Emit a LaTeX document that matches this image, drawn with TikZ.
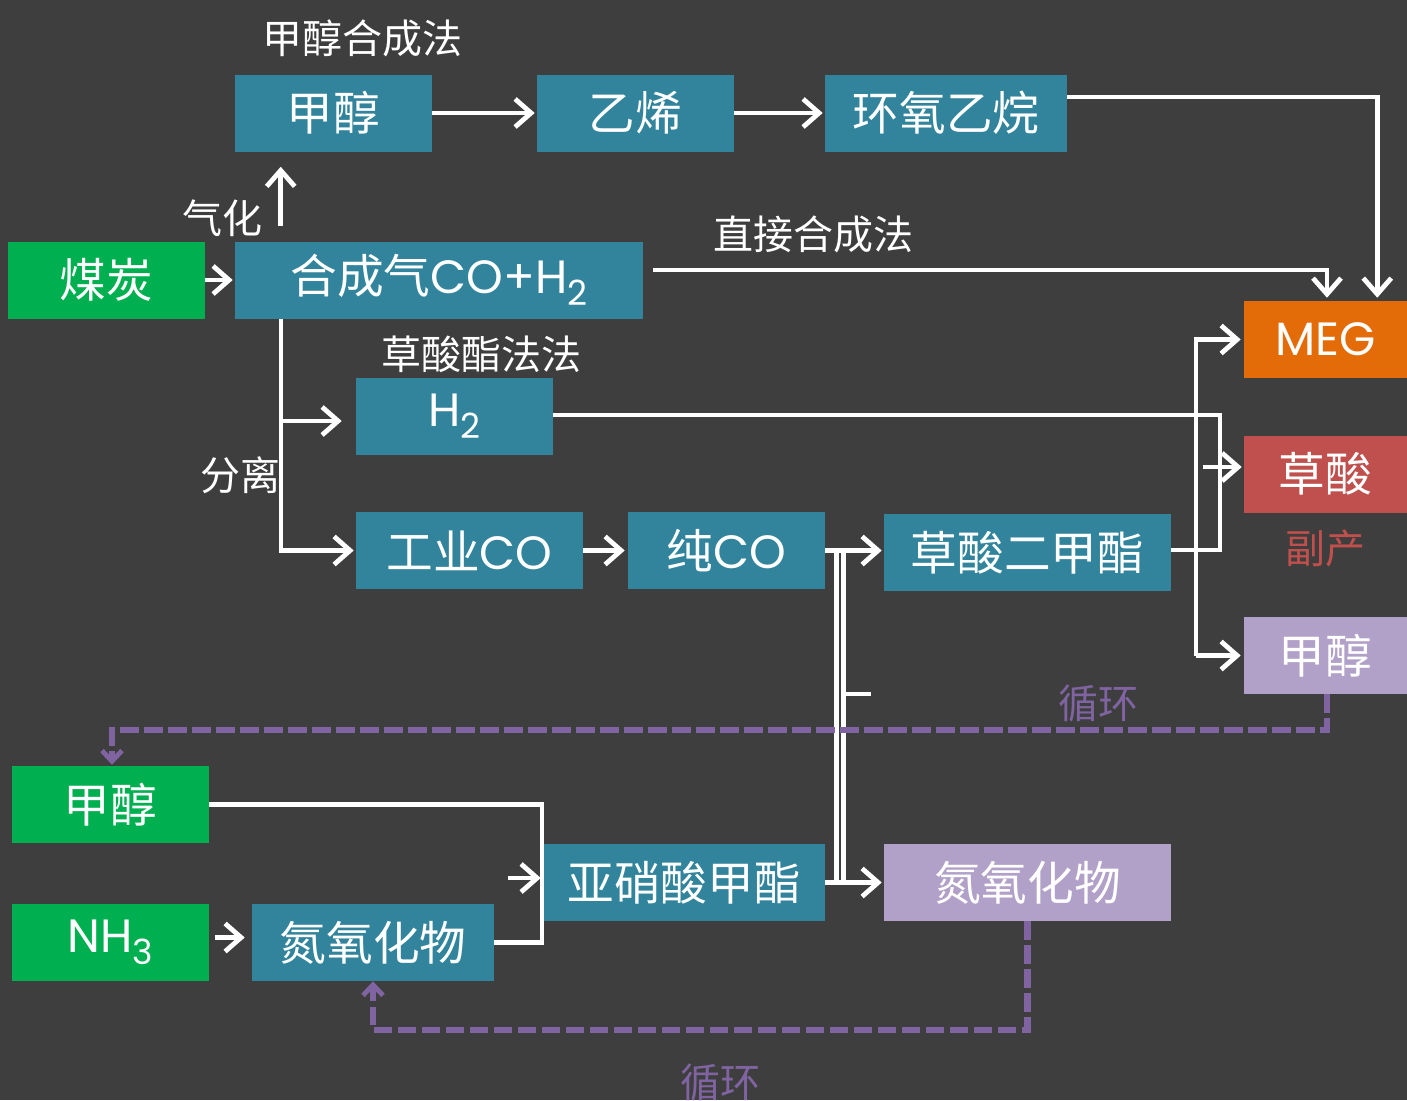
\documentclass[tikz,border=0pt]{standalone}
\usepackage{fontspec}
\setmainfont{Noto Sans CJK SC}
\newfontfamily\lat{Poppins}
\usetikzlibrary{arrows.meta,calc}
\definecolor{cbg}{HTML}{3E3E3E}
\definecolor{cteal}{HTML}{31849B}
\definecolor{cgreen}{HTML}{00B050}
\definecolor{corange}{HTML}{E36C09}
\definecolor{cred}{HTML}{C0504D}
\definecolor{clil}{HTML}{B1A0C7}
\definecolor{cpur}{HTML}{8064A2}
\newcommand\px{0.75pt}
\newcommand\mysub[1]{\raisebox{-0.45ex}{\fontsize{26}{26}\selectfont #1}}
\tikzset{
  box/.style={inner sep=0pt, minimum height=77*\px, text=white, font=\fontsize{35}{35}\selectfont},
  lab/.style={inner sep=0pt, text=white, font=\fontsize{30}{30}\selectfont},
  wl/.style={draw=white, line width=3.6pt},
  arr/.style={wl, -{Straight Barb[length=12pt,width=21pt]}},
  darr/.style={draw=cpur, line width=4.8pt, dash pattern=on 14pt off 4pt, -{Straight Barb[length=8pt,width=15pt,line width=3.6pt]}},
}
\begin{document}
\begin{tikzpicture}[x=0.75pt,y=-0.75pt]
\fill[cbg] (0,0) rectangle (1407,1100);
\useasboundingbox (0,0) rectangle (1407,1100);

% nodes
\node[box, fill=cteal, minimum width=197*\px] (m1) at (333.5,113) {甲醇};
\node[box, fill=cteal, minimum width=197*\px] (ey) at (635.5,113) {乙烯};
\node[box, fill=cteal, minimum width=242*\px] (eo) at (946,113) {环氧乙烷};
\node[box, fill=cgreen, minimum width=197*\px] (coal) at (106.5,280) {煤炭};
\node[box, fill=cteal, minimum width=408*\px] (syn) at (439,280) {合成气{\lat CO+H\mysub{2}}};
\node[box, fill=corange, minimum width=163*\px] (meg) at (1325.5,339.5) {\lat MEG};
\node[box, fill=cteal, minimum width=197*\px] (h2) at (454.5,416) {\lat H\mysub{2}};
\node[box, fill=cred, minimum width=163*\px] (ox) at (1325.5,474) {草酸};
\node[box, fill=cteal, minimum width=227*\px] (ico) at (469.5,550.5) {工业{\lat CO}};
\node[box, fill=cteal, minimum width=197*\px] (pco) at (726.5,550.5) {纯{\lat CO}};
\node[box, fill=cteal, minimum width=287*\px] (dmo) at (1027.5,552.5) {草酸二甲酯};
\node[box, fill=clil, minimum width=163*\px] (me2) at (1325.5,655.5) {甲醇};
\node[box, fill=cgreen, minimum width=197*\px] (mg) at (110.5,804.5) {甲醇};
\node[box, fill=cteal, minimum width=282*\px] (nit) at (684,882.5) {亚硝酸甲酯};
\node[box, fill=clil, minimum width=287*\px] (nox2) at (1027.5,882.5) {氮氧化物};
\node[box, fill=cgreen, minimum width=197*\px] (nh3) at (110.5,942.5) {\lat NH\mysub{3}};
\node[box, fill=cteal, minimum width=242*\px] (nox1) at (373,942.5) {氮氧化物};

% labels
\node[lab] (t1) at (362,38) {甲醇合成法};
\node[lab] (t2) at (222,218) {气化};
\node[lab] (t3) at (813,234) {直接合成法};
\node[lab] (t4) at (481,354) {草酸酯法法};
\node[lab] (t5) at (240,475) {分离};
\node[lab, text=cred] (t6) at (1325,548) {副产};
\node[lab, text=cpur] (t7) at (1098,703) {循环};
\node[lab, text=cpur] (t8) at (720,1082) {循环};

% coordinates
\coordinate (sp) at (281,319);
\coordinate (sb) at (281,421);
\coordinate (bj) at (1220,415);
\coordinate (bk) at (1220,550);
\coordinate (bb) at (1196,655.5);
\coordinate (jn) at (542,942.5);
\coordinate (c1) at (112,730);
\coordinate (c2) at (373,1030);

% connectors
\draw[arr] (m1.east) -- ($(ey.west)+(-2,0)$);
\draw[arr] (ey.east) -- ($(eo.west)+(-2,0)$);
\draw[arr] ($(eo.east)+(0,-16)$) -| ($(meg.north east)+(-30,-3)$);
\draw[arr] (coal.east) -- ($(syn.west)+(-2,0)$);
\draw[arr] ($(syn.east)+(10,-10)$) -| ($(meg.north)+(1.5,-3)$);
\draw[arr] ($(syn.north west)+(46,-15)$) -- ($(m1.south west)+(46,15)$);
\draw[arr] (sp) |- ($(ico.west)+(-2,0)$);
\draw[arr] (sb) -- ($(sb -| h2.west)+(-14,0)$);
\draw[wl] (h2.east |- bj) -- (bj) -- (bk) -- (bk -| dmo.east);
\draw[arr] (bb) |- ($(meg.west)+(-3,0)$);
\draw[arr] (bb) -- ($(me2.west)+(-3,0)$);
\draw[arr] ($(ox.west)+(-41,-7)$) -- ($(ox.west)+(-2,-7)$);
\draw[arr] (ico.east) -- ($(pco.west)+(-3,0)$);
\draw[arr] (pco.east) -- ($(pco.east -| dmo.west)+(-2,0)$);
\draw[wl] ($(pco.east)+(11,0)$) -- ($(nit.east)+(11,0)$);
\draw[wl] ($(pco.east)+(18,0)$) -- ($(nit.east)+(18,0)$);
\draw[wl] ($(pco.east)+(18,143.5)$) -- ++(28,0);
\draw[arr] (nit.east) -- ($(nox2.west)+(-2,0)$);
\draw[wl] (mg.east) -| (jn) -- (nox1.east);
\draw[arr] ($(nit.west)+(-35,-4.5)$) -- ($(nit.west)+(-2,-4.5)$);
\draw[arr] ($(nh3.east)+(6,-5)$) -- ($(nox1.west)+(-7,-5)$);
\draw[darr] ($(me2.south)+(1.5,0)$) |- (c1) -- ($(mg.north)+(1.5,-1)$);
\draw[darr] (nox2.south) |- (c2) -- (nox1.south);
\end{tikzpicture}
\end{document}
